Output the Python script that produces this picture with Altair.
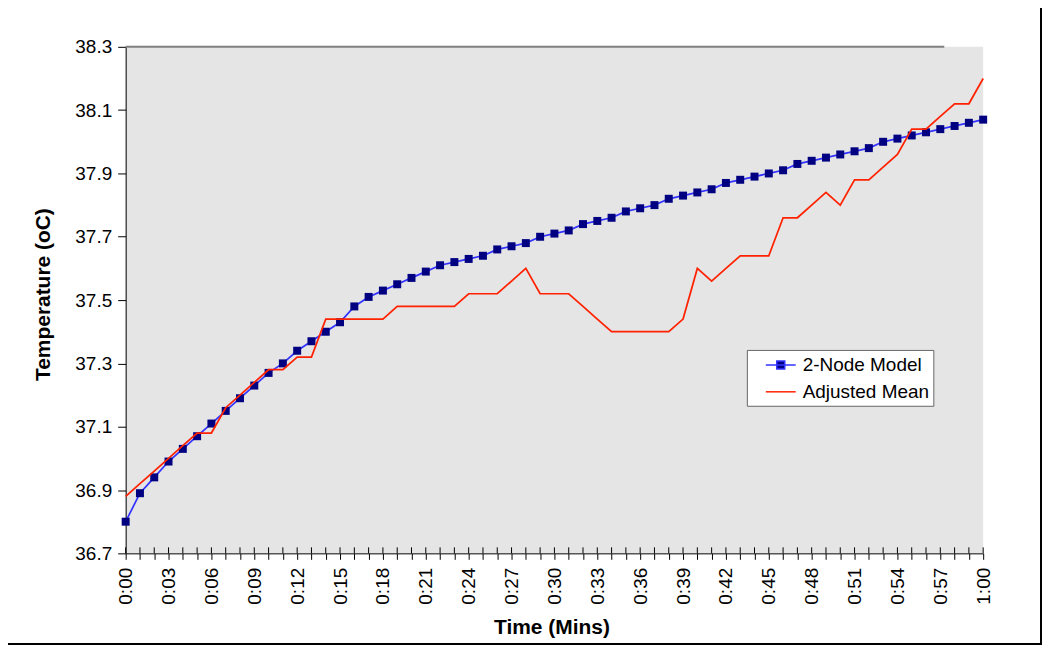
import json
import altair as alt
import pandas as pd

# ---- data ----
TIME_S = list(range(61))  # seconds, 0:00 .. 1:00
MODEL = [36.80, 36.89, 36.94, 36.99, 37.03, 37.07, 37.11, 37.15, 37.19, 37.23,
         37.27, 37.30, 37.34, 37.37, 37.40, 37.43, 37.48, 37.51, 37.53, 37.55,
         37.57, 37.59, 37.61, 37.62, 37.63, 37.64, 37.66, 37.67, 37.68, 37.70,
         37.71, 37.72, 37.74, 37.75, 37.76, 37.78, 37.79, 37.80, 37.82, 37.83,
         37.84, 37.85, 37.87, 37.88, 37.89, 37.90, 37.91, 37.93, 37.94, 37.95,
         37.96, 37.97, 37.98, 38.00, 38.01, 38.02, 38.03, 38.04, 38.05, 38.06,
         38.07]
ADJUSTED = [36.88, 36.92, 36.96, 37.00, 37.04, 37.08, 37.08, 37.16, 37.20, 37.24,
            37.28, 37.28, 37.32, 37.32, 37.44, 37.44, 37.44, 37.44, 37.44, 37.48,
            37.48, 37.48, 37.48, 37.48, 37.52, 37.52, 37.52, 37.56, 37.60, 37.52,
            37.52, 37.52, 37.48, 37.44, 37.40, 37.40, 37.40, 37.40, 37.40, 37.44,
            37.60, 37.56, 37.60, 37.64, 37.64, 37.64, 37.76, 37.76, 37.80, 37.84,
            37.80, 37.88, 37.88, 37.92, 37.96, 38.04, 38.04, 38.08, 38.12, 38.12,
            38.20]
SERIES = ["2-Node Model", "Adjusted Mean"]
X_LABELS = ["0:00", "0:03", "0:06", "0:09", "0:12", "0:15", "0:18", "0:21",
            "0:24", "0:27", "0:30", "0:33", "0:36", "0:39", "0:42", "0:45",
            "0:48", "0:51", "0:54", "0:57", "1:00"]
Y_TICKS = [36.7, 36.9, 37.1, 37.3, 37.5, 37.7, 37.9, 38.1, 38.3]

df_model = pd.DataFrame({"t": TIME_S, "temp": MODEL, "series": SERIES[0]})
df_adj = pd.DataFrame({"t": TIME_S, "temp": ADJUSTED, "series": SERIES[1]})
df_all = pd.concat([df_model, df_adj], ignore_index=True)
df_ticks = pd.DataFrame({"t": TIME_S})

FONT = "Liberation Sans"
BLUE = "#3333FF"
NAVY = "#000080"
RED = "#FF2200"
PLOT_W, PLOT_H = 860, 508

label_expr = ("datum.value % 3 == 0 ? " + json.dumps(X_LABELS) +
              "[datum.value / 3] : ''")

x_enc = alt.X(
    "t:Q",
    scale=alt.Scale(domain=[0, 60], nice=False, zero=False),
    axis=alt.Axis(
        values=TIME_S, labelExpr=label_expr, labelAngle=270,
        labelAlign="right", labelBaseline="middle", labelFont=FONT,
        labelFontSize=19, labelColor="black", labelPadding=8,
        labelOverlap=False, labelFlush=False,
        tickSize=6, tickColor="black", domainColor="black", grid=False,
        title="Time (Mins)", titleFont=FONT, titleFontSize=21,
        titleFontWeight="bold", titleColor="black", titleX=427, titleY=80,
        titleBaseline="alphabetic", titleAlign="center",
    ),
)
y_enc = alt.Y(
    "temp:Q",
    scale=alt.Scale(domain=[36.7, 38.3], nice=False, zero=False),
    axis=alt.Axis(
        values=Y_TICKS, format=".1f", labelFont=FONT, labelFontSize=19,
        labelColor="black", labelPadding=6, tickSize=8, tickColor="black",
        domainColor="black", grid=False, labelOverlap=False, labelFlush=False,
        title="Temperature (oC)", titleFont=FONT, titleFontSize=21,
        titleFontWeight="bold", titleColor="black", titleAngle=270,
        titleX=-82, titleY=248, titleAlign="center", titleBaseline="middle",
    ),
)

# inner half of the "cross" tick marks on the time axis
inner_ticks = alt.Chart(df_ticks).mark_rule(color="black", strokeWidth=1).encode(
    x=x_enc, y=alt.value(PLOT_H - 6), y2=alt.value(PLOT_H)
)
blue_line = alt.Chart(df_model).mark_line(color=BLUE, strokeWidth=1.75).encode(x=x_enc, y=y_enc)
squares = alt.Chart(df_model).mark_point(
    shape="square", filled=True, size=64, color=NAVY, opacity=1
).encode(x=x_enc, y=y_enc)
red_line = alt.Chart(df_adj).mark_line(color=RED, strokeWidth=1.75).encode(x=x_enc, y=y_enc)

legend = alt.Legend(
    title=None, orient="none", legendX=623, legendY=304,
    fillColor="white", strokeColor="#666666", padding=4,
    symbolOffset=19, labelOffset=11, rowPadding=6,
    labelFont=FONT, labelFontSize=19, labelColor="black",
    symbolSize=400, symbolStrokeWidth=1.5,
    labelExpr="datum.label + '\u2002\u2002'",
)
PATH_MODEL = "M-1.5,0H1.5M-0.4,-0.4H0.4V0.4H-0.4Z"
PATH_ADJ = "M-1.5,0H1.5"
legend_layer = alt.Chart(df_all).transform_filter("datum.t < 0").mark_point(
    filled=True, opacity=1, size=400, strokeWidth=1.5
).encode(
    x=x_enc, y=y_enc,
    fill=alt.Fill("series:N", scale=alt.Scale(domain=SERIES, range=[NAVY, "transparent"]), legend=legend),
    stroke=alt.Stroke("series:N", scale=alt.Scale(domain=SERIES, range=[BLUE, RED]), legend=legend),
    shape=alt.Shape("series:N", scale=alt.Scale(domain=SERIES, range=[PATH_MODEL, PATH_ADJ]), legend=legend),
)

top_rule = alt.Chart(alt.Data(values=[{}])).mark_rule(color="#808080", strokeWidth=2).encode(
    x=alt.value(0), x2=alt.value(821), y=alt.value(0)
)
frame = alt.Chart(alt.Data(values=[{}])).mark_rect(
    fill="transparent", stroke="black", strokeWidth=2
).encode(x=alt.value(-119), x2=alt.value(918), y=alt.value(-40), y2=alt.value(599))

chart = alt.layer(top_rule, inner_ticks, blue_line, squares, red_line, legend_layer, frame).properties(
    width=PLOT_W, height=PLOT_H,
    autosize=alt.AutoSizeParams(type="none"),
    padding={"left": 118, "top": 38, "right": 60, "bottom": 94},
    background="white",
).configure_view(stroke=None, fill="#E5E5E5")

chart.save("out.html", embed_options={"renderer": "svg", "actions": False})
